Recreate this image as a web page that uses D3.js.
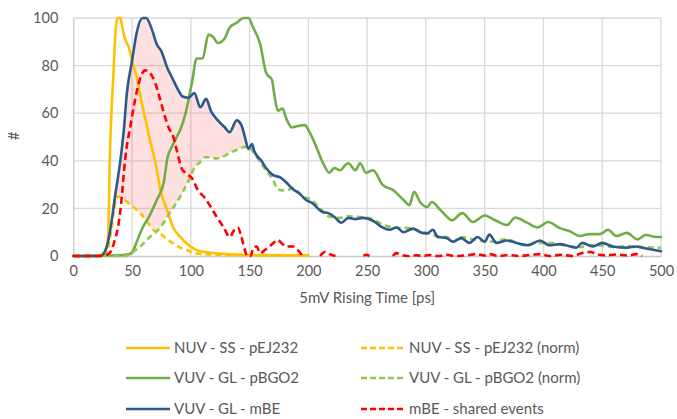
<!DOCTYPE html>
<html><head><meta charset="utf-8">
<script src="https://cdn.jsdelivr.net/npm/d3@7"></script>
<style>
html,body{margin:0;padding:0;background:#fff;}
svg text{font-family:Lato,"Open Sans",sans-serif;fill:#595959;}
</style></head>
<body><svg id="chart" width="677" height="419"></svg>
<script>
// ---- data (rise time in ps, counts normalised to 100) ----
const xTicks = [0,50,100,150,200,250,300,350,400,450,500];
const yTicks = [0,20,40,60,80,100];

const nuvSS = [[0,0],[20,0],[25,1],[27,2],[29,5],[30,12],[31,40],[32,55],[33,66],[34,75],[35,86],[36,95],[37,99],[38,100],[40,100],[41,98],[43,93],[45,90],[47,88],[50,82],[54,75],[58,65],[62,56],[65,49],[70,39],[74,28],[80,19],[85,12],[91,8],[97,5],[108,2],[125,1],[150,0.4],[200,0.3]];
const nuvSSNorm = [[0,0],[22,0],[26,0.5],[28,1],[30,4],[32,10],[34,17],[36,23],[38,25],[42,24],[45,23],[50,21],[57,18],[62,15],[68,11],[75,9],[80,7],[86,5],[91,3.5],[97,2.5],[102,1.3],[110,0.8],[130,0.4],[200,0.2]];
const vuvBGO = [[0,0],[40,0.3],[48,0.8],[50,1.5],[54,6],[59,12],[65,17],[71,23.5],[77,31],[80,41],[84,46],[88,50],[91,53],[96,61],[101,73],[105,83],[110,83],[115,93],[119,92],[123,89.5],[129,91.6],[133,96],[139,98],[145,100],[149,100],[153,96],[159,89],[164,77],[169,74],[171,68],[174,61],[178,62],[181,58],[186,54],[190,54.5],[197,55],[201,52],[207,45.5],[212,39.5],[218,35],[222,37],[227,36],[231,38],[234,39],[240,36],[244,39],[249,35],[255,36],[263,30],[272,27.7],[281,23.5],[286,21.4],[290,27],[295,22.7],[301,20.6],[305,22.7],[312,19.5],[319,16],[322,15],[331,18],[340,14.3],[350,17],[359,15],[369,13],[376,16.2],[386,14],[395,12],[404,14.3],[414,11.7],[422,10.5],[431,8.4],[439,9.2],[448,9.2],[455,11],[462,8.4],[471,9.7],[480,7],[487,8.8],[496,8],[500,8]];
const vuvBGONorm = [[0,0],[45,0],[48,0.8],[57,4],[65,8],[74,12],[82,18],[91,25],[99,32.6],[103,37],[108,39.5],[112,41.5],[116,41.5],[122,41],[127,41.6],[132,43],[136,44],[141,45],[145,45.8],[148,46],[151,45],[153,43.7],[159,39.5],[164,36],[170,32],[174,28],[181,27.5],[187,28.5],[195,25],[203,23.5],[210,20],[218,16.5],[227,16],[233,16.8],[240,16.5],[252,16],[261,13.8],[272,12],[286,11.7],[298,10],[309,8.4],[318,8],[323,6],[330,8],[343,6.7],[354,6],[369,7],[383,4.6],[394,5.5],[405,5.5],[416,4.6],[431,3.8],[445,4.6],[459,3.8],[471,4.2],[484,3.8],[500,3.4]];
const vuvMBE = [[0,0],[23,0],[27,2],[30,7],[33,16],[35.5,25],[38,33],[41,44],[43,53],[45.5,68],[50,82],[54,94],[59,100],[62,100],[67,95],[71,89],[75,86],[80,79],[84,75],[89,70],[93,67],[98,66.5],[103,68.5],[108,62.5],[113,66],[117,61],[123,57],[129,54],[133,52],[139,57],[143,55],[146,50],[149,45],[152,47],[154,44],[160,40],[164,37],[170,34],[176,33],[181,31],[187,28],[193,26],[198,23.5],[204,22],[208,20],[212,18.5],[217,18],[222,16.5],[228,14],[234,16],[240,15.5],[246,16],[256,14.5],[263,12],[269,11],[275,12],[281,10],[289,11.5],[295,10],[301,9.5],[306,11],[310,8],[318,7.5],[323,6],[330,7.5],[337,5.5],[344,8],[350,6],[354,9],[360,5.5],[369,6.5],[377,5.5],[387,4.5],[397,6.5],[405,4.5],[414,5],[428,3.5],[433,5.5],[442,4],[450,5.5],[459,4],[471,3.5],[479,4],[484,3.5],[500,2]];
const mbeShared = [[0,0],[25,0],[31,1.3],[35.5,7],[38,12],[41,23.5],[43,35],[45.5,46],[48,53],[52.5,65.5],[56.5,74],[61,78],[65,77],[69.5,73],[74,65.5],[78,58.5],[82,53],[84,51.6],[88,44.5],[92,37],[95,35],[101,32.7],[106,27.7],[112,24.4],[116,21.4],[122,16.4],[128,12],[133,8],[137,11],[140,12],[143,8],[146,2.5],[148,0],[151,0],[153,3.4],[156,4],[159,1.2],[163,2.5],[167,4],[170,5.4],[174,6.7],[177,5.5],[181,4],[187,4],[191,2.5],[195,0],[200,null],[210,0],[214,1.7],[218,0.8],[223,0],[235,null],[247,0],[249,0.5],[252,0],[262,null],[272,0],[275,1.2],[280,0.3],[285,0],[292,0.3],[297,0],[303,0.4],[310,0],[318,0.5],[325,0],[335,0.3],[343,0.8],[350,0.2],[354,0.8],[362,0],[370,0.4],[380,0],[390,0.5],[397,0.8],[405,0],[415,0.5],[425,0],[433,1.3],[440,1.7],[445,0.8],[452,0.3],[462,0.6],[472,0.2],[479,0.8],[484,0]];
const shadeRange = [36, 150];

const seriesList = [
  {name:"NUV - SS - pEJ232", data:nuvSS, color:"#FFC000", dash:null},
  {name:"NUV - SS - pEJ232 (norm)", data:nuvSSNorm, color:"#FFC000", dash:"6,4"},
  {name:"VUV - GL - pBGO2", data:vuvBGO, color:"#70AD47", dash:null},
  {name:"VUV - GL - pBGO2 (norm)", data:vuvBGONorm, color:"#92C850", dash:"6,4"},
  {name:"VUV - GL - mBE", data:vuvMBE, color:"#2C5A8C", dash:null},
  {name:"mBE - shared events", data:mbeShared, color:"#FF0000", dash:"7,4"}
];

// ---- layout ----
const svg = d3.select("#chart");
const L = 73.3, R = 661, T = 18, B = 256;
const x = d3.scaleLinear().domain([0,500]).range([L,R]);
const y = d3.scaleLinear().domain([0,100]).range([B,T]);

// gridlines
const grid = svg.append("g");
grid.selectAll("line.h").data(yTicks.filter(d=>d>0)).join("line")
  .attr("x1",L).attr("x2",R).attr("y1",d=>y(d)).attr("y2",d=>y(d))
  .attr("stroke","#D9D9D9").attr("stroke-width",1.3);
grid.selectAll("line.v").data(xTicks.filter(d=>d>0)).join("line")
  .attr("y1",T).attr("y2",B).attr("x1",d=>x(d)).attr("x2",d=>x(d))
  .attr("stroke","#D9D9D9").attr("stroke-width",1.3);

// axes via d3 axis
const yAxis = svg.append("g").attr("transform",`translate(${L},0)`)
  .call(d3.axisLeft(y).tickValues(yTicks).tickSize(0).tickPadding(15));
const xAxis = svg.append("g").attr("transform",`translate(0,${B})`)
  .call(d3.axisBottom(x).tickValues(xTicks).tickSize(0).tickPadding(10));
[yAxis,xAxis].forEach(a=>{
  a.select(".domain").attr("stroke","#C8C8C8").attr("stroke-width",1.3);
  a.selectAll("text").style("font-family","Lato, 'Open Sans', sans-serif").style("font-size","14.5px").attr("fill","#595959");
});

// titles
svg.append("text").attr("transform",`translate(19,136) rotate(-90)`).attr("text-anchor","middle")
  .style("font-size","15px").text("#");
svg.append("text").attr("x",(L+R)/2).attr("y",303).attr("text-anchor","middle")
  .style("font-size","15px").text("5mV Rising Time [ps]");

// shaded region between mBE and the normalised curves
const curve = d3.curveMonotoneX;
const defs = svg.append("defs");
const above = (id,data)=>{
  defs.append("clipPath").attr("id",id).append("path")
    .attr("d", d3.area().x(d=>x(d[0])).y0(0).y1(d=>y(d[1])).curve(curve)(data));
};
above("clipA", nuvSSNorm.concat([[500,0]]));
above("clipB", vuvBGONorm);
defs.append("clipPath").attr("id","clipR").append("rect")
  .attr("x",x(shadeRange[0])).attr("width",x(shadeRange[1])-x(shadeRange[0])).attr("y",0).attr("height",419);
svg.append("g").attr("clip-path","url(#clipA)")
  .append("g").attr("clip-path","url(#clipB)")
  .append("g").attr("clip-path","url(#clipR)")
  .append("path")
  .attr("d", d3.area().x(d=>x(d[0])).y0(y(0)).y1(d=>y(d[1])).curve(curve)(vuvMBE))
  .attr("fill","#FF0000").attr("fill-opacity",0.12);

// lines
const line = d3.line().defined(d=>d[1]!=null).x(d=>x(d[0])).y(d=>y(d[1])).curve(curve);
seriesList.forEach(s=>{
  svg.append("path").attr("d",line(s.data)).attr("fill","none")
    .attr("stroke",s.color).attr("stroke-width",2.6)
    .attr("stroke-linejoin","round").attr("stroke-linecap", s.dash ? "butt" : "round")
    .attr("stroke-dasharray",s.dash);
});

// legend
const legCols = [126, 361], legRows = [348, 378, 409];
seriesList.forEach((s,i)=>{
  const cx = legCols[i%2], cy = legRows[Math.floor(i/2)];
  svg.append("line").attr("x1",cx).attr("x2",cx+44).attr("y1",cy).attr("y2",cy)
    .attr("stroke",s.color).attr("stroke-width",2.6).attr("stroke-dasharray",s.dash ? "6,3" : null);
  svg.append("text").attr("x",cx+48).attr("y",cy).attr("dy","0.35em")
    .style("font-size","15px").text(s.name);
});
</script></body></html>
